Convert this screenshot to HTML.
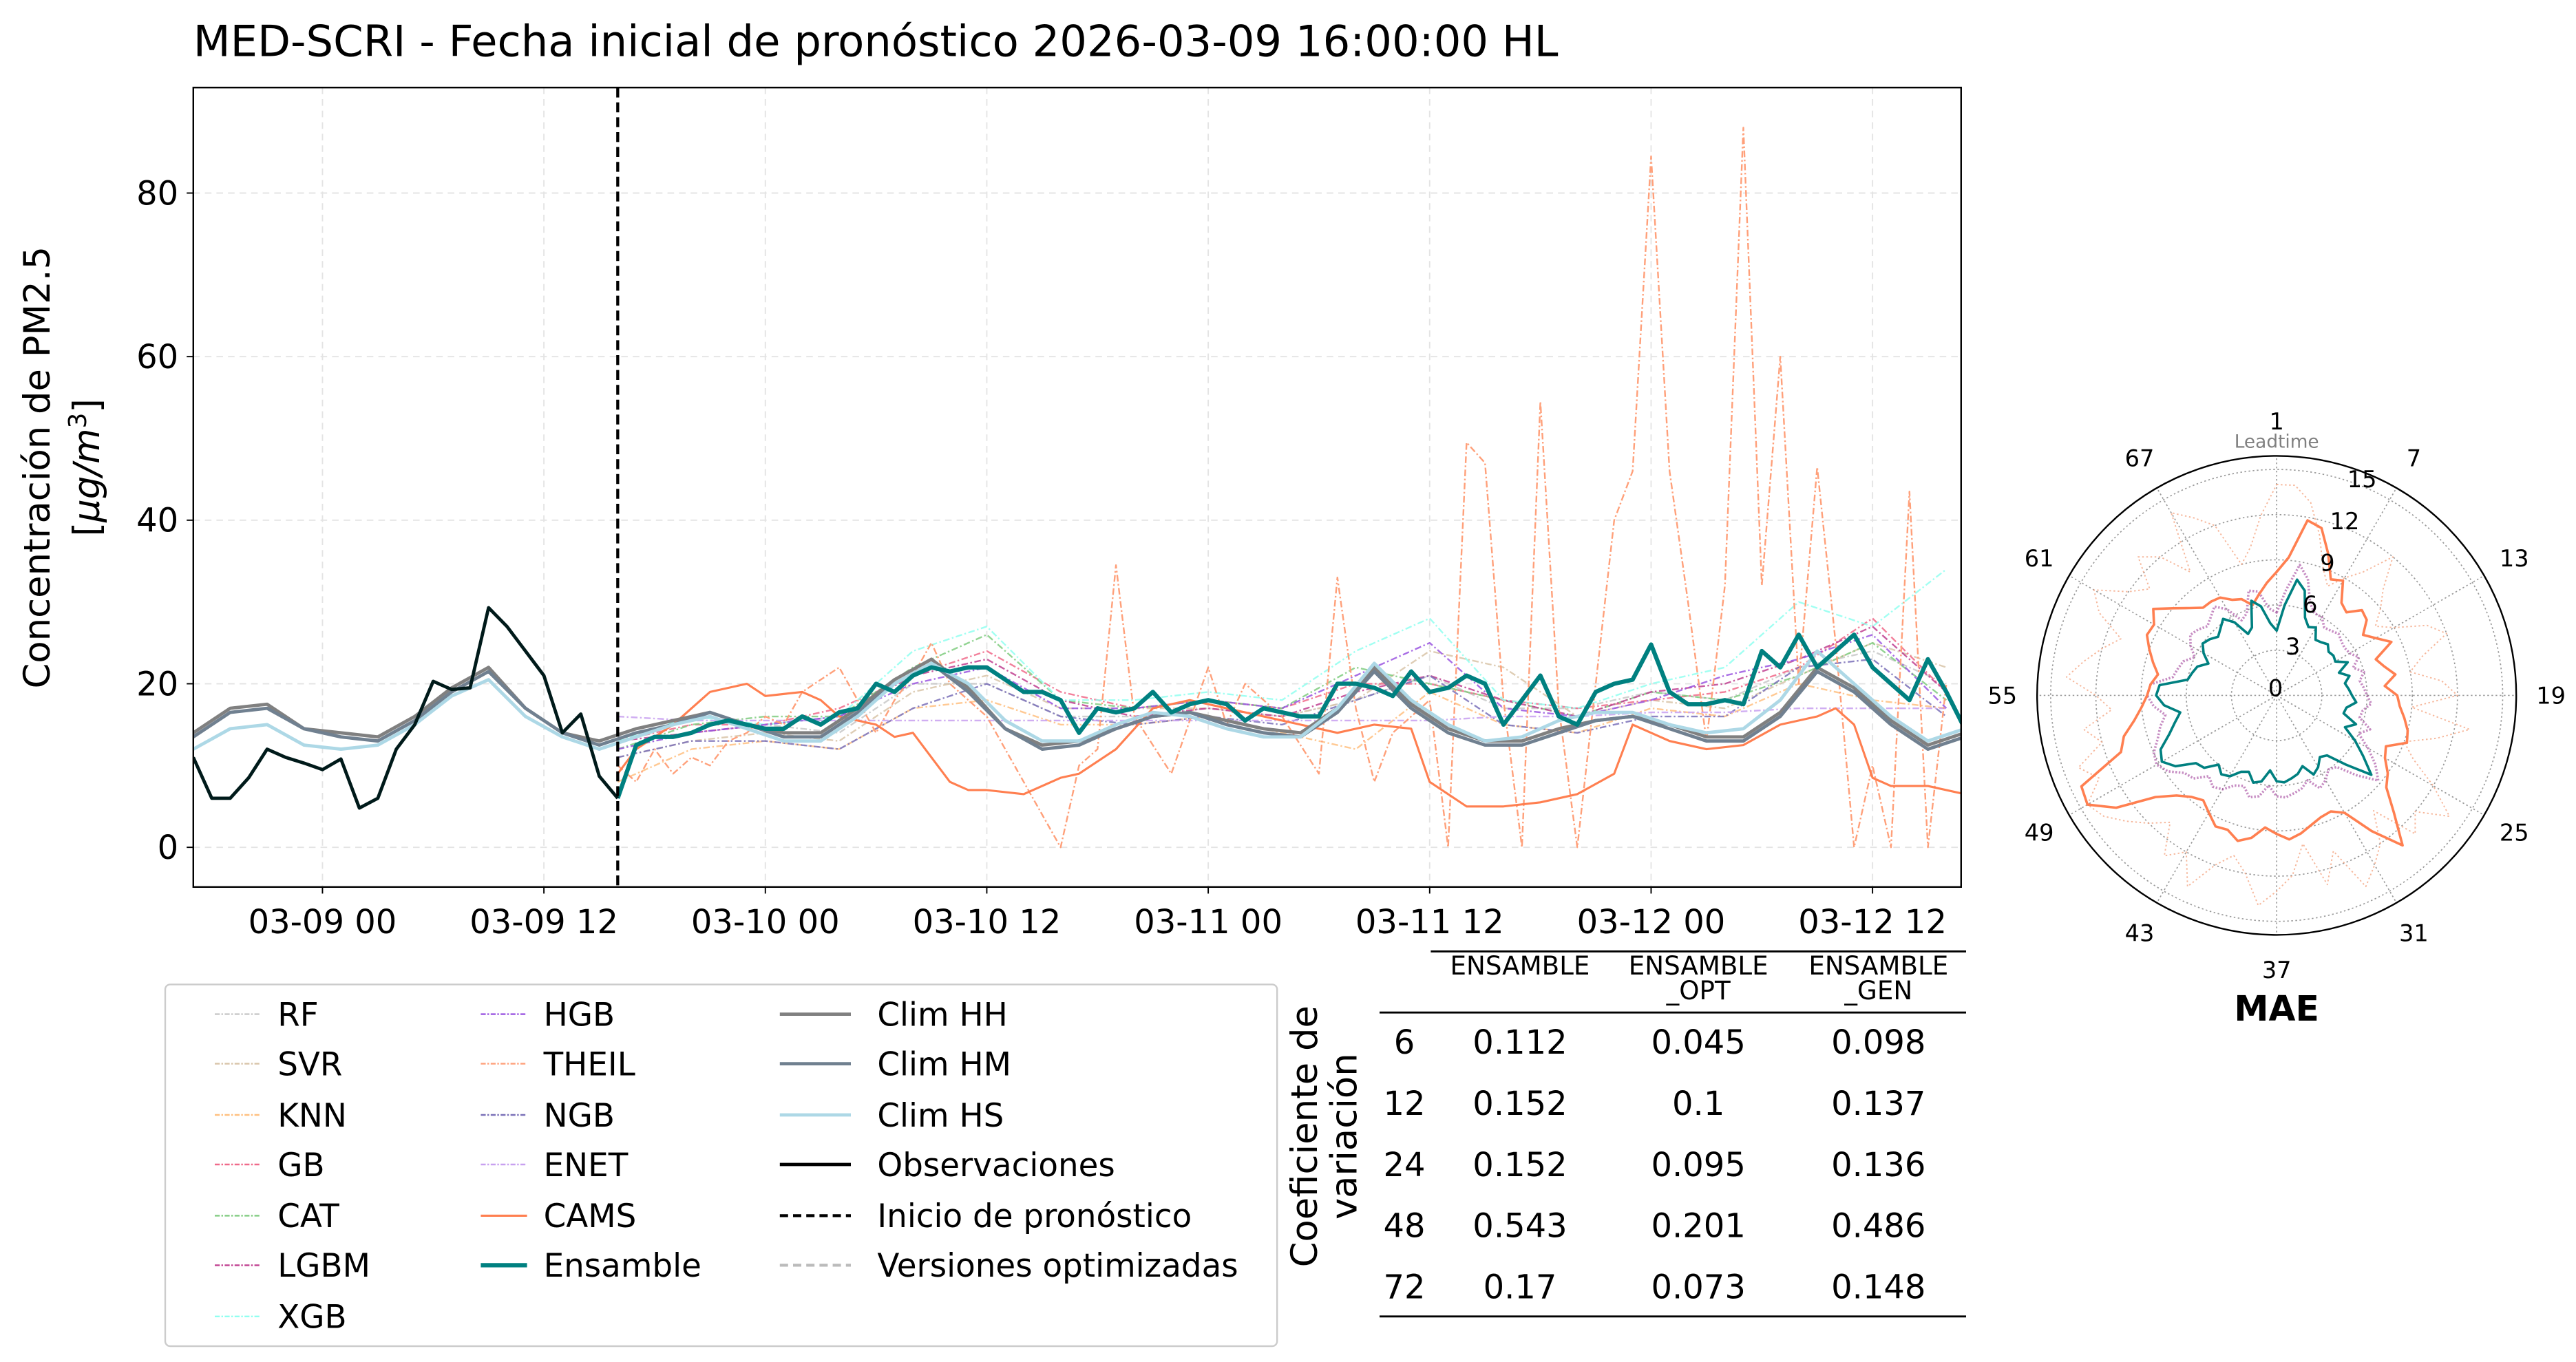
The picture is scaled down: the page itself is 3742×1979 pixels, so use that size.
<!DOCTYPE html>
<html><head><meta charset="utf-8">
<style>
html,body{margin:0;padding:0;background:#fff;}
svg{display:block;font-family:"DejaVu Sans","Liberation Sans",sans-serif;}
</style></head>
<body>
<svg id="fig" width="3742" height="1979" viewBox="0 0 1559.17 824.58" xmlns="http://www.w3.org/2000/svg">
<rect width="1559.17" height="824.58" fill="#fff"/>
<text x="117" y="34" font-size="26">MED-SCRI - Fecha inicial de pronóstico 2026-03-09 16:00:00 HL</text>
<g id="main"></g>
<g id="polar"></g>
<g id="legend"></g>
<g id="table"></g>
</svg>
<script>
// ---------- data ----------
const xTickLabels = ["03-09 00","03-09 12","03-10 00","03-10 12","03-11 00","03-11 12","03-12 00","03-12 12"];
const xTickHours = [0,12,24,36,48,60,72,84];
const yTicks = [0,20,40,60,80];
const obsStart = -7;
const obsValues = [11,6,6,8.5,12,11,10.3,9.5,10.8,4.8,6,12,15,20.3,19.3,19.5,29.3,27,24,21,14,16.3,8.7,6];
const ensStart = 16;
const ensValues = [6,12.5,13.5,13.5,14,15,15.5,15,14.5,14.5,16,15,16.5,17,20,19,21,22,21.5,22,22,20.5,19,19,18,14,17,16.5,17,19,16.5,17.5,18,17.5,15.5,17,16.5,16,16,20,20,19.5,18.5,21.5,19,19.5,21,20,15,18,21,16,15,19,20,20.5,24.8,19,17.5,17.5,18,17.5,24,22,26,22,24,26,22,20,18,23,19,14.5];
const climStart = -7;
const climStep = 2;
const climHH = [14,17,17.5,14.5,14,13.5,16,19.5,22,17,14,13,14.5,15.5,16.5,15,14,14,17,20.5,23,19.5,14.5,12.5,13,14.5,16,16.5,15.5,14.5,14,17,22,17.5,14.5,13,13,14.5,15.5,16,15,13.5,13.5,16.5,22,19.5,15.5,12.5,14];
const climHM = [13.5,16.5,17,14.5,13.5,13,15.5,19,21.5,17,14,12.5,14,15,16.5,15,13.5,13.5,16.5,20,22.5,19,14.5,12,12.5,14.5,16,16.5,15,14,13.5,16.5,21.5,17,14,12.5,12.5,14,15.5,16,14.5,13,13,16,21.5,19,15,12,13.5];
const climHS = [12,14.5,15,12.5,12,12.5,15,18.5,20.5,16,13.5,12,13.5,15,16,14.5,13,13,16,20,22.5,20,15.5,13,13,15,16.5,16,14.5,13.5,13.5,17,22.5,18,15,13,13.5,15.5,16.5,16.5,15,14,14.5,18,24,20,16,13,14.5];
const camsHours = [16,17,19,21,23,24,26,27,28,30,31,32,34,35,36,38,40,41,43,45,47,49,51,53,55,57,59,60,62,64,66,68,70,71,73,75,77,79,81,82,83,84,85,87,89];
const camsValues = [9,12,15,19,20,18.5,19,18,16,15,13.5,14,8,7,7,6.5,8.5,9,12,17,18,17,16,15,14,15,14.5,8,5,5,5.5,6.5,9,15,13,12,12.5,15,16,17,15,8.5,7.5,7.5,6.5];
const theilHours = [16,17,18,19,20,21,22,23,24,25,26,28,30,31,32,33,34,36,38,40,41,42,43,44,46,48,49,50,52,54,55,56,57,58,60,61,62,63,64,65,66,67,68,69,70,71,72,73,74,75,76,77,78,79,80,81,82,83,84,85,86,87,88];
const theilValues = [10,8,12,9,11,10,13,14,16,15,19,22,14,18,21,25,20,16,8,0,10,12,34.5,16,9,22,15,20,16,9,33,17,8,14,18,0,49.5,47,18,0,54.5,17,0,20,40,46,84.5,46,30,13,32,88,32,60,20,46.5,25,0,10,0,43.5,0,20];
const modelStart = 16;
const modelStep = 4;
const rfValues   = [12,14,15,14,20,20,16,16,17,16,18,21,17,17,19,18,22,24,20];
const svrValues  = [11,13,14,13,19,21,17,17,17,16,18,24,22,16,18,17,21,25,22];
const knnValues  = [8,12,13,12,17,18,15,15,16,14,12,19,15,14,17,16,20,18,17];
const gbValues   = [13,15,15,17,21,24,19,17,18,17,20,20,18,17,18,19,22,28,19];
const catValues  = [12,15,16,16,22,26,18,17,18,17,22,20,18,16,19,18,21,25,18];
const lgbmValues = [13,14,15,16,21,23,18,16,17,16,19,21,18,16,19,20,23,27,19];
const xgbValues  = [13,16,15,16,24,27,18,18,19,18,24,28,18,17,20,22,30,27,34];
const hgbValues  = [12,14,15,16,20,22,17,17,18,17,21,25,17,16,18,21,23,26,17];
const ngbValues  = [11,13,13,12,17,20,16,15,16,15,18,21,15,14,16,16,22,23,16];
const enetValues = [16,15.5,15.5,15.5,15.5,15.5,15.5,15.5,15.5,15.5,15.5,15.5,16,16,16.5,16.5,17,17,17];
// polar MAE per leadtime 1..72
const polarLabels = [1,7,13,19,25,31,37,43,49,55,61,67];
const radialTicks = [0,3,6,9,12,15];
const maeEns = [4.3,6,7.8,7.2,5.5,5,5.2,4.5,4.6,4.8,4.5,4.6,4.5,5.2,4.4,5,4.6,4.8,5,5.3,4.7,4.6,5.6,5,6,7,8.2,6.5,5.2,5,5.5,5.8,5,5.4,5.6,5.8,5.7,5,5.8,6,5.4,5.6,6.2,6.4,6,6.8,7,8.2,8.8,8.5,7.6,7,6.5,7.5,8,7.8,6,5.8,5.6,5,5.6,6,5.8,5.5,5.8,6.2,5.6,4.5,4.8,6.5,6,4.8];
const maeCams = [8.2,9.2,11.8,11.5,10,8.5,8.8,7.5,7.2,8,7.8,7,7.6,8.4,7,7.4,8,7.2,8,8.2,8.6,9,9.2,8,8.3,9,9.5,11,13,11,9,8.5,8.6,8.9,9.3,9.6,9.2,8.8,9.6,10,9.5,9.6,9,8.5,8.8,9.4,10.5,13,14.5,14.3,11,10.5,9.6,9,8.6,8.4,8,8.5,9,9.5,9.4,10,9,8.2,7.6,7.6,7.5,7,6.8,6.2,6.8,7.5];
const maeTheil = [14,14,13,11,9,8,9,10,12,10,9,8,9,11,12,10,9,11,12,9,13,11,9,10,12,14,12,13,10,12,13,14,11,13,10,12,13,14,12,11,12,14,12,13,11,12,13,14,14.5,13,14,12,13,11,12,14,13,12,11,13,14,12,11,13,12,10,14,13,12,9,10,12];
const maeModels = [5.5,7,8.8,8,6.5,6,6,5.5,5.6,5.8,5.6,5.5,5.6,6,5.4,6,5.6,5.8,6,6.3,5.8,5.7,6.6,6,7,8,8.8,7.5,6.2,6,6.5,6.8,6,6.4,6.6,6.8,6.7,6,6.8,7,6.4,6.6,7.2,7.4,7,7.8,8,8.8,9.2,9,8.4,8,7.5,8.2,8.6,8.4,7,6.8,6.6,6,6.6,7,6.8,6.5,6.8,7.2,6.6,5.5,5.8,7.2,7,5.8];
const tableHeaders = ["ENSAMBLE","ENSAMBLE\n_OPT","ENSAMBLE\n_GEN"];
const tableRows = ["6","12","24","48","72"];
const cvEns = ["0.112","0.152","0.152","0.543","0.17"];
const cvOpt = ["0.045","0.1","0.095","0.201","0.073"];
const cvGen = ["0.098","0.137","0.136","0.486","0.148"];

// ---------- helpers ----------
const NS="http://www.w3.org/2000/svg";
function mk(tag, attrs, parent){const e=document.createElementNS(NS,tag);for(const k in attrs)e.setAttribute(k,attrs[k]);if(parent)parent.appendChild(e);return e;}
function txt(parent,x,y,s,size,extra){const t=mk('text',Object.assign({x:x,y:y,'font-size':size},extra||{}),parent);t.textContent=s;return t;}

// ---------- main axes ----------
const L=117,R=1187,T=53,B=537, X0=-7, X1=88.8, Y0=-4.85, Y1=92.9;
const xs=h=>L+(h-X0)/(X1-X0)*(R-L);
const ys=v=>B-(v-Y0)/(Y1-Y0)*(B-T);
const main=document.getElementById('main');
mk('clipPath',{id:'clipMain'},main).appendChild(mk('rect',{x:L,y:T,width:R-L,height:B-T}));
xTickHours.forEach((h,i)=>{
  const g=mk('line',{x1:xs(h),x2:xs(h),y1:T,y2:B,stroke:'#e4e4e4','stroke-width':0.8,'stroke-dasharray':'4 3'},main);
  
  
});
yTicks.forEach(v=>{
  const g=mk('line',{x1:L,x2:R,y1:ys(v),y2:ys(v),stroke:'#e4e4e4','stroke-width':0.8,'stroke-dasharray':'4 3'},main);
  
  
});
const plotG=mk('g',{'clip-path':'url(#clipMain)'},main);
function series(hours,vals,style,name){
  const pts=hours.map((h,i)=>xs(h).toFixed(2)+','+ys(vals[i]).toFixed(2)).join(' ');
  const p=mk('polyline',Object.assign({points:pts,fill:'none','stroke-linejoin':'round'},style),plotG);
  
  
  return p;
}
const hoursFrom=(s,step,n)=>Array.from({length:n},(_,i)=>s+i*step);
const models=[
 [rfValues,'#c8c8c8','rf-line'],[svrValues,'#d8c4a8','svr-line'],[knnValues,'#ffc080','knn-line'],
 [gbValues,'#f06a8a','gb-line'],[catValues,'#80cc80','cat-line'],[lgbmValues,'#c04090','lgbm-line'],
 [xgbValues,'#90fff0','xgb-line'],[hgbValues,'#9a55e0','hgb-line'],[ngbValues,'#7a70b8','ngb-line'],[enetValues,'#c8a0f0','enet-line']];
models.forEach(m=>series(hoursFrom(modelStart,modelStep,m[0].length),m[0],{stroke:m[1],'stroke-width':1,'stroke-dasharray':'4 1.5 1 1.5','opacity':0.85},m[2]));
series(theilHours,theilValues,{stroke:'#ffa07a','stroke-width':1,'stroke-dasharray':'4 1.5 1 1.5'},'theil-line');
series(camsHours,camsValues,{stroke:'#ff7f50','stroke-width':1.3},'cams-line');
series(hoursFrom(climStart,climStep,climHH.length),climHH,{stroke:'#808080','stroke-width':2},'clim-hh-line');
series(hoursFrom(climStart,climStep,climHM.length),climHM,{stroke:'#708090','stroke-width':2},'clim-hm-line');
series(hoursFrom(climStart,climStep,climHS.length),climHS,{stroke:'#add8e6','stroke-width':2},'clim-hs-line');
series(hoursFrom(ensStart,1,ensValues.length),ensValues,{stroke:'#008080','stroke-width':2.6},'ensemble-line');
series(hoursFrom(obsStart,1,obsValues.length),obsValues,{stroke:'#001a1a','stroke-width':2},'observations-line');
const sl=mk('line',{x1:xs(16),x2:xs(16),y1:T,y2:B,stroke:'#000','stroke-width':1.8,'stroke-dasharray':'6 3'},main);


mk('rect',{x:L,y:T,width:R-L,height:B-T,fill:'none',stroke:'#000','stroke-width':1},main);
xTickHours.forEach((h,i)=>{
  mk('line',{x1:xs(h),x2:xs(h),y1:B,y2:B+4,stroke:'#000','stroke-width':0.8},main);
  const t=txt(main,xs(h),B+28,xTickLabels[i],20,{'text-anchor':'middle'});
  
  
});
yTicks.forEach(v=>{
  mk('line',{x1:L-4,x2:L,y1:ys(v),y2:ys(v),stroke:'#000','stroke-width':0.8},main);
  const t=txt(main,L-9,ys(v)+7,String(v),20,{'text-anchor':'end'});
  
  
});
const yl=mk('g',{transform:'translate(30,283) rotate(-90)'},main);


txt(yl,0,0,'Concentración de PM2.5',22,{'text-anchor':'middle'});
const yl2=txt(yl,0,30,'',22,{'text-anchor':'middle'});
yl2.innerHTML='[<tspan font-style="italic">μg/m</tspan><tspan dy="-8" font-size="15">3</tspan><tspan dy="8">]</tspan>';

// ---------- polar ----------
const PC={x:1378,y:421}, PR=145, RMAX=15.9;
const polar=document.getElementById('polar');
const pr=v=>v/RMAX*PR;
const pxy=(k,v)=>{const a=(k-1)*5*Math.PI/180;return [PC.x+pr(v)*Math.sin(a),PC.y-pr(v)*Math.cos(a)];};
radialTicks.slice(1).forEach(v=>mk('circle',{cx:PC.x,cy:PC.y,r:pr(v),fill:'none',stroke:'#999','stroke-width':0.7,'stroke-dasharray':'1 1.5'},polar));
polarLabels.forEach((lab,i)=>{
  const a=i*30*Math.PI/180;
  mk('line',{x1:PC.x,y1:PC.y,x2:PC.x+PR*Math.sin(a),y2:PC.y-PR*Math.cos(a),stroke:'#999','stroke-width':0.7,'stroke-dasharray':'1 1.5'},polar);
  const t=txt(polar,PC.x+(PR+21)*Math.sin(a),PC.y-(PR+21)*Math.cos(a)+5,String(lab),14,{'text-anchor':'middle'});
  
  
});
function polarSeries(vals,style,name){
  const pts=vals.map((v,i)=>pxy(i+1,v).map(n=>n.toFixed(2)).join(',')).join(' ');
  const p=mk('polygon',Object.assign({points:pts,fill:'none','stroke-linejoin':'round'},style),polar);
  
  
}
polarSeries(maeTheil,{stroke:'#f4a582','stroke-width':0.8,'stroke-dasharray':'1 1.5',opacity:0.8},'polar-theil');
polarSeries(maeModels,{stroke:'#a0409a','stroke-width':1.5,'stroke-dasharray':'1 1',opacity:0.6},'polar-models');
polarSeries(maeCams,{stroke:'#ff7f50','stroke-width':1.5},'polar-cams');
polarSeries(maeEns,{stroke:'#008080','stroke-width':1.5},'polar-ensemble');
mk('circle',{cx:PC.x,cy:PC.y,r:PR,fill:'none',stroke:'#000','stroke-width':1},polar);
radialTicks.forEach(v=>{
  const a=22.5*Math.PI/180;
  const t=txt(polar,PC.x+(pr(v)+6)*Math.sin(a)-3,PC.y-(pr(v)+6)*Math.cos(a)+6,String(v),14,{'text-anchor':'middle'});
  
  
});
txt(polar,PC.x,271,'Leadtime',11,{'text-anchor':'middle',fill:'#808080'});
const mae=txt(polar,PC.x,618,'MAE',21,{'text-anchor':'middle','font-weight':'bold'});



// ---------- legend ----------
const lg=document.getElementById('legend');
mk('rect',{x:100,y:596,width:673,height:219,rx:3,fill:'#fff',stroke:'#cccccc','stroke-width':1},lg);
const legItems=[
 [130,614,'RF',{stroke:'#c8c8c8','stroke-width':1,'stroke-dasharray':'3 1 1 1'}],
 [130,644,'SVR',{stroke:'#d8c4a8','stroke-width':1,'stroke-dasharray':'3 1 1 1'}],
 [130,675,'KNN',{stroke:'#ffc080','stroke-width':1,'stroke-dasharray':'3 1 1 1'}],
 [130,705,'GB',{stroke:'#f06a8a','stroke-width':1,'stroke-dasharray':'3 1 1 1'}],
 [130,736,'CAT',{stroke:'#80cc80','stroke-width':1,'stroke-dasharray':'3 1 1 1'}],
 [130,766,'LGBM',{stroke:'#c04090','stroke-width':1,'stroke-dasharray':'3 1 1 1'}],
 [130,797,'XGB',{stroke:'#90fff0','stroke-width':1,'stroke-dasharray':'3 1 1 1'}],
 [291,614,'HGB',{stroke:'#9a55e0','stroke-width':1,'stroke-dasharray':'3 1 1 1'}],
 [291,644,'THEIL',{stroke:'#ffa07a','stroke-width':1,'stroke-dasharray':'3 1 1 1'}],
 [291,675,'NGB',{stroke:'#7a70b8','stroke-width':1,'stroke-dasharray':'3 1 1 1'}],
 [291,705,'ENET',{stroke:'#c8a0f0','stroke-width':1,'stroke-dasharray':'3 1 1 1'}],
 [291,736,'CAMS',{stroke:'#ff7f50','stroke-width':1.3}],
 [291,766,'Ensamble',{stroke:'#008080','stroke-width':2.6}],
 [472,614,'Clim HH',{stroke:'#808080','stroke-width':2}],
 [472,644,'Clim HM',{stroke:'#708090','stroke-width':2}],
 [472,675,'Clim HS',{stroke:'#add8e6','stroke-width':2}],
 [472,705,'Observaciones',{stroke:'#000','stroke-width':2}],
 [472,736,'Inicio de pronóstico',{stroke:'#000','stroke-width':1.8,'stroke-dasharray':'5 3'}],
 [472,766,'Versiones optimizadas',{stroke:'#bbb','stroke-width':1.8,'stroke-dasharray':'5 3'}]];
legItems.forEach(it=>{
  const g=mk('g',{},lg);
  
  
  const big=it[0]===472;
  const w=big?43:28;
  mk('line',Object.assign({x1:it[0],x2:it[0]+w,y1:it[1],y2:it[1]},it[3]),g);
  txt(g,it[0]+(big?59:38),it[1]+7,it[2],19.5);
});

// ---------- table ----------
const tb=document.getElementById('table');
mk('line',{x1:866,x2:1190,y1:576,y2:576,stroke:'#000','stroke-width':1.2},tb);
mk('line',{x1:835,x2:1190,y1:613,y2:613,stroke:'#000','stroke-width':1.2},tb);
mk('line',{x1:835,x2:1190,y1:797,y2:797,stroke:'#000','stroke-width':1.2},tb);
const colX=[920,1028,1137];
tableHeaders.forEach((h,i)=>{
  h.split('\n').forEach((ln,j)=>txt(tb,colX[i],590+j*15,ln,15.5,{'text-anchor':'middle'}));
});
tableRows.forEach((r,i)=>{
  const y=638+i*37;
  const g=mk('g',{},tb);
  
  
  txt(g,850,y,r,20,{'text-anchor':'middle'});
  txt(g,colX[0],y,cvEns[i],20,{'text-anchor':'middle'});
  txt(g,colX[1],y,cvOpt[i],20,{'text-anchor':'middle'});
  txt(g,colX[2],y,cvGen[i],20,{'text-anchor':'middle'});
});
const tl=mk('g',{transform:'translate(797,688) rotate(-90)'},tb);


txt(tl,0,0,'Coeficiente de',22,{'text-anchor':'middle'});
txt(tl,0,24,'variación',22,{'text-anchor':'middle'});
</script>
</body></html>
